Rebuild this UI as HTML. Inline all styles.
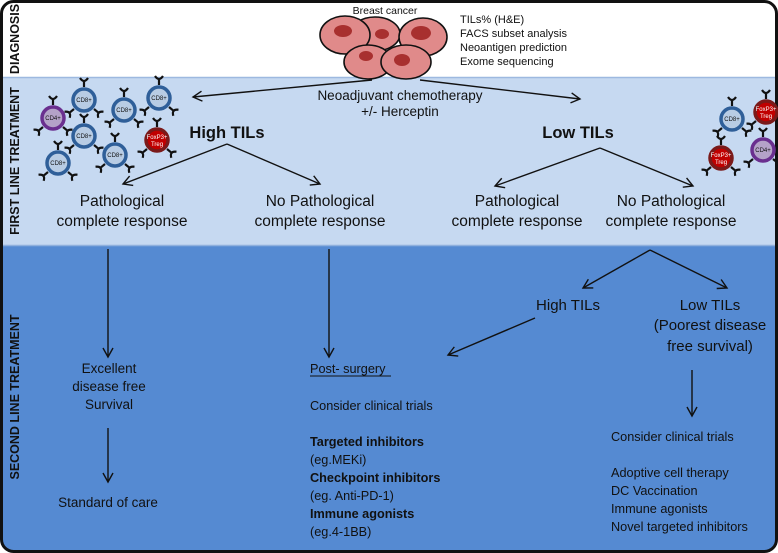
<!DOCTYPE html>
<html><head><meta charset="utf-8"><style>
html,body{margin:0;padding:0;background:#fff}
svg{display:block}
text{font-family:"Liberation Sans",sans-serif;fill:#111}
</style></head><body>
<svg width="778" height="553" viewBox="0 0 778 553" xmlns="http://www.w3.org/2000/svg">
<defs>
<marker id="ah" markerWidth="12" markerHeight="12" refX="10" refY="6" orient="auto" markerUnits="userSpaceOnUse">
<path d="M1,1 L10,6 L1,11" fill="none" stroke="#111" stroke-width="1.4"/>
</marker>
<clipPath id="frame"><rect x="1.5" y="1.5" width="775" height="550" rx="12"/></clipPath>
<g id="rec"><path d="M0,0 L0,-5 M-4,-9 Q0,-3 4,-9" stroke="#111" stroke-width="2.2" fill="none"/></g>
<g id="cellR">
<use href="#rec" transform="translate(0,-13)"/>
<use href="#rec" transform="translate(-10,9) rotate(-130)"/>
<use href="#rec" transform="translate(10,9) rotate(130)"/>
</g>
</defs>
<g clip-path="url(#frame)">
<rect x="0" y="0" width="778" height="77" fill="#fff"/>
<rect x="0" y="77" width="778" height="168" fill="#c6d9f1"/>
<rect x="0" y="245" width="778" height="308" fill="#558ad2"/>
<line x1="0" y1="77.5" x2="778" y2="77.5" stroke="#9db9e0" stroke-width="1.5"/>
<line x1="0" y1="245.5" x2="778" y2="245.5" stroke="#8fb0dd" stroke-width="1.5"/>
</g>
<rect x="1.5" y="1.5" width="775" height="550" rx="12" fill="none" stroke="#111" stroke-width="3"/>

<text transform="translate(19,39) rotate(-90)" text-anchor="middle" font-size="12.5" font-weight="bold">DIAGNOSIS</text>
<text transform="translate(19,161) rotate(-90)" text-anchor="middle" font-size="12.5" font-weight="bold">FIRST LINE TREATMENT</text>
<text transform="translate(19,397) rotate(-90)" text-anchor="middle" font-size="12.5" font-weight="bold">SECOND LINE TREATMENT</text>

<text x="385" y="14" text-anchor="middle" font-size="10.5">Breast cancer</text>
<g stroke="#111" stroke-width="1.6" fill="#e08a8a">
<ellipse cx="375" cy="34" rx="25" ry="17"/>
<ellipse cx="345" cy="35" rx="25" ry="19"/>
<ellipse cx="423" cy="37" rx="24" ry="19"/>
<ellipse cx="368" cy="62" rx="24" ry="17"/>
<ellipse cx="406" cy="62" rx="25" ry="17"/>
</g>
<g fill="#a8302f">
<ellipse cx="343" cy="31" rx="9" ry="6"/>
<ellipse cx="382" cy="34" rx="7" ry="5"/>
<ellipse cx="421" cy="33" rx="10" ry="7"/>
<ellipse cx="366" cy="56" rx="7" ry="5"/>
<ellipse cx="402" cy="60" rx="8" ry="6"/>
</g>
<g font-size="11">
<text x="460" y="23">TILs% (H&amp;E)</text>
<text x="460" y="37">FACS subset analysis</text>
<text x="460" y="51">Neoantigen prediction</text>
<text x="460" y="65">Exome sequencing</text>
</g>

<g stroke="#111" stroke-width="1.4" fill="none" marker-end="url(#ah)">
<line x1="372" y1="80" x2="193" y2="97"/>
<line x1="420" y1="80" x2="580" y2="99"/>
<polyline points="227,144 123,184" />
<polyline points="227,144 320,184" />
<polyline points="600,148 495,186" />
<polyline points="600,148 693,186" />
<line x1="108" y1="249" x2="108" y2="357"/>
<line x1="329" y1="249" x2="329" y2="357"/>
<line x1="650" y1="250" x2="583" y2="288"/>
<line x1="650" y1="250" x2="727" y2="288"/>
<line x1="535" y1="318" x2="448" y2="355"/>
<line x1="108" y1="428" x2="108" y2="482"/>
<line x1="692" y1="370" x2="692" y2="416"/>
</g>

<text x="400" y="100" text-anchor="middle" font-size="13.5">Neoadjuvant chemotherapy</text>
<text x="400" y="116" text-anchor="middle" font-size="13.5">+/- Herceptin</text>
<text x="227" y="138" text-anchor="middle" font-size="16.5" font-weight="bold">High TILs</text>
<text x="578" y="138" text-anchor="middle" font-size="16.5" font-weight="bold">Low TILs</text>

<g font-size="15.5" text-anchor="middle">
<text x="122" y="206">Pathological</text>
<text x="122" y="226">complete response</text>
<text x="320" y="206">No Pathological</text>
<text x="320" y="226">complete response</text>
<text x="517" y="206">Pathological</text>
<text x="517" y="226">complete response</text>
<text x="671" y="206">No Pathological</text>
<text x="671" y="226">complete response</text>
</g>

<g font-size="15" text-anchor="middle">
<text x="568" y="310">High TILs</text>
<text x="710" y="310">Low TILs</text>
<text x="710" y="330">(Poorest disease</text>
<text x="710" y="351">free survival)</text>
</g>

<g font-size="13.5" text-anchor="middle">
<text x="109" y="373">Excellent</text>
<text x="109" y="391">disease free</text>
<text x="109" y="409">Survival</text>
<text x="108" y="507">Standard of care</text>
</g>

<g font-size="12.7">
<text x="310" y="373">Post- surgery</text>
<line x1="310" y1="376" x2="391" y2="376" stroke="#111" stroke-width="1"/>
<text x="310" y="410">Consider clinical trials</text>
<text x="310" y="446" font-weight="bold">Targeted inhibitors</text>
<text x="310" y="464">(eg.MEKi)</text>
<text x="310" y="482" font-weight="bold">Checkpoint inhibitors</text>
<text x="310" y="500">(eg. Anti-PD-1)</text>
<text x="310" y="518" font-weight="bold">Immune agonists</text>
<text x="310" y="536">(eg.4-1BB)</text>
<text x="611" y="441">Consider clinical trials</text>
<text x="611" y="477">Adoptive cell therapy</text>
<text x="611" y="495">DC Vaccination</text>
<text x="611" y="513">Immune agonists</text>
<text x="611" y="531">Novel targeted inhibitors</text>
</g>

<g font-size="6">
<g transform="translate(84,100)"><use href="#cellR"/><circle r="11" fill="#b8cce4" stroke="#2f5f99" stroke-width="3.5"/><text y="2" text-anchor="middle">CD8+</text></g>
<g transform="translate(124,110)"><use href="#cellR"/><circle r="11" fill="#b8cce4" stroke="#2f5f99" stroke-width="3.5"/><text y="2" text-anchor="middle">CD8+</text></g>
<g transform="translate(159,98)"><use href="#cellR"/><circle r="11" fill="#b8cce4" stroke="#2f5f99" stroke-width="3.5"/><text y="2" text-anchor="middle">CD8+</text></g>
<g transform="translate(53,118)"><use href="#cellR"/><circle r="11" fill="#b4a2c8" stroke="#6a2f8f" stroke-width="3.5"/><text y="2" text-anchor="middle">CD4+</text></g>
<g transform="translate(84,136)"><use href="#cellR"/><circle r="11" fill="#b8cce4" stroke="#2f5f99" stroke-width="3.5"/><text y="2" text-anchor="middle">CD8+</text></g>
<g transform="translate(115,155)"><use href="#cellR"/><circle r="11" fill="#b8cce4" stroke="#2f5f99" stroke-width="3.5"/><text y="2" text-anchor="middle">CD8+</text></g>
<g transform="translate(58,163)"><use href="#cellR"/><circle r="11" fill="#b8cce4" stroke="#2f5f99" stroke-width="3.5"/><text y="2" text-anchor="middle">CD8+</text></g>
<g transform="translate(157,140)"><use href="#cellR"/><circle r="11" fill="#c00000" stroke="#7a1a1a" stroke-width="3.5"/><text y="-1" text-anchor="middle" style="fill:#fff">FoxP3+</text><text y="6" text-anchor="middle" style="fill:#fff">Treg</text></g>
<g transform="translate(732,119)"><use href="#cellR"/><circle r="11" fill="#b8cce4" stroke="#2f5f99" stroke-width="3.5"/><text y="2" text-anchor="middle">CD8+</text></g>
<g transform="translate(766,112)"><use href="#cellR"/><circle r="11" fill="#c00000" stroke="#7a1a1a" stroke-width="3.5"/><text y="-1" text-anchor="middle" style="fill:#fff">FoxP3+</text><text y="6" text-anchor="middle" style="fill:#fff">Treg</text></g>
<g transform="translate(721,158)"><use href="#cellR"/><circle r="11" fill="#c00000" stroke="#7a1a1a" stroke-width="3.5"/><text y="-1" text-anchor="middle" style="fill:#fff">FoxP3+</text><text y="6" text-anchor="middle" style="fill:#fff">Treg</text></g>
<g transform="translate(763,150)"><use href="#cellR"/><circle r="11" fill="#b4a2c8" stroke="#6a2f8f" stroke-width="3.5"/><text y="2" text-anchor="middle">CD4+</text></g>
</g>
</svg>
</body></html>
